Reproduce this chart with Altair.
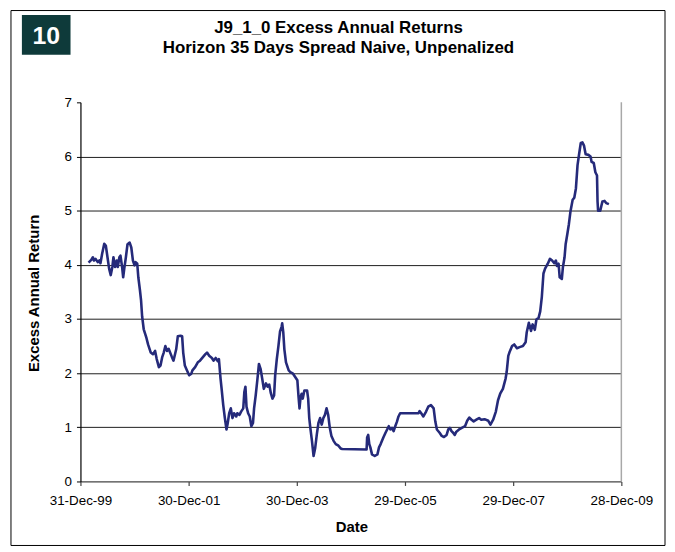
import altair as alt
import pandas as pd

years = [
    2000.15, 2000.20, 2000.23, 2000.25, 2000.28, 2000.32, 2000.35, 2000.37, 2000.40, 2000.44,
    2000.47, 2000.50, 2000.53, 2000.56, 2000.59, 2000.61, 2000.64, 2000.67, 2000.69, 2000.72,
    2000.74, 2000.77, 2000.79, 2000.81, 2000.84, 2000.87, 2000.91, 2000.94, 2000.97, 2001.00,
    2001.02, 2001.05, 2001.07, 2001.10, 2001.12, 2001.14, 2001.17, 2001.22, 2001.25, 2001.30,
    2001.34, 2001.38, 2001.41, 2001.45, 2001.48, 2001.51, 2001.54, 2001.57, 2001.60, 2001.63,
    2001.69, 2001.72, 2001.77, 2001.80, 2001.85, 2001.88, 2001.90, 2001.93, 2001.97, 2002.01,
    2002.05, 2002.07, 2002.12, 2002.17, 2002.21, 2002.26, 2002.31, 2002.34, 2002.38, 2002.43,
    2002.46, 2002.50, 2002.54, 2002.56, 2002.59, 2002.61, 2002.64, 2002.67, 2002.70, 2002.72,
    2002.75, 2002.78, 2002.81, 2002.84, 2002.88, 2002.90, 2002.94, 2002.97, 2003.01, 2003.03,
    2003.05, 2003.07, 2003.10, 2003.13, 2003.16, 2003.19, 2003.21, 2003.24, 2003.27, 2003.30,
    2003.33, 2003.36, 2003.39, 2003.43, 2003.46, 2003.49, 2003.52, 2003.55, 2003.58, 2003.60,
    2003.63, 2003.66, 2003.69, 2003.72, 2003.73, 2003.75, 2003.77, 2003.80, 2003.85, 2003.88,
    2003.93, 2003.97, 2004.01, 2004.03, 2004.05, 2004.07, 2004.09, 2004.11, 2004.14, 2004.19,
    2004.21, 2004.23, 2004.25, 2004.28, 2004.31, 2004.34, 2004.37, 2004.40, 2004.43, 2004.46,
    2004.49, 2004.52, 2004.55, 2004.58, 2004.61, 2004.64, 2004.68, 2004.72, 2004.77, 2004.81,
    2004.84, 2005.29, 2005.30, 2005.32, 2005.34, 2005.36, 2005.39, 2005.44, 2005.49, 2005.52,
    2005.55, 2005.60, 2005.64, 2005.67, 2005.70, 2005.73, 2005.76, 2005.79, 2005.82, 2005.85,
    2005.88, 2005.91, 2006.25, 2006.27, 2006.30, 2006.34, 2006.39, 2006.43, 2006.48, 2006.53,
    2006.56, 2006.59, 2006.64, 2006.68, 2006.72, 2006.77, 2006.80, 2006.83, 2006.86, 2006.89,
    2006.92, 2006.95, 2007.00, 2007.05, 2007.11, 2007.15, 2007.19, 2007.23, 2007.27, 2007.32,
    2007.37, 2007.41, 2007.47, 2007.54, 2007.58, 2007.63, 2007.68, 2007.72, 2007.76, 2007.81,
    2007.86, 2007.88, 2007.91, 2007.93, 2007.98, 2008.02, 2008.07, 2008.12, 2008.18, 2008.23,
    2008.25, 2008.29, 2008.31, 2008.33, 2008.36, 2008.40, 2008.43, 2008.47, 2008.50, 2008.53,
    2008.56, 2008.59, 2008.64, 2008.68, 2008.72, 2008.76, 2008.79, 2008.81, 2008.84, 2008.86,
    2008.90, 2008.92, 2008.95, 2008.97, 2009.00, 2009.03, 2009.06, 2009.10, 2009.13, 2009.16,
    2009.19, 2009.22, 2009.25, 2009.28, 2009.31, 2009.34, 2009.39, 2009.43, 2009.45, 2009.49,
    2009.52, 2009.55, 2009.56, 2009.57, 2009.61, 2009.65, 2009.69, 2009.72, 2009.77,
]
returns = [
    4.04, 4.09, 4.14, 4.08, 4.11, 4.05, 4.08, 4.03, 4.20, 4.39,
    4.35, 4.14, 3.93, 3.81, 3.96, 4.14, 3.96, 4.08, 3.96, 4.14,
    4.17, 3.96, 3.77, 3.93, 4.14, 4.38, 4.41, 4.32, 4.08, 3.99,
    4.05, 4.02, 3.77, 3.53, 3.35, 3.05, 2.81, 2.65, 2.53, 2.38,
    2.35, 2.41, 2.26, 2.11, 2.14, 2.29, 2.38, 2.50, 2.41, 2.45,
    2.30, 2.23, 2.44, 2.68, 2.69, 2.68, 2.38, 2.14, 2.05, 1.96,
    1.99, 2.05, 2.11, 2.20, 2.23, 2.29, 2.35, 2.38, 2.32, 2.28,
    2.23, 2.28, 2.22, 2.26, 1.90, 1.71, 1.41, 1.17, 0.96, 1.06,
    1.26, 1.35, 1.17, 1.26, 1.20, 1.26, 1.23, 1.29, 1.35, 1.65,
    1.75, 1.38, 1.26, 1.20, 1.02, 1.08, 1.35, 1.59, 1.87, 2.17,
    2.08, 1.90, 1.71, 1.81, 1.75, 1.79, 1.63, 1.53, 1.59, 1.96,
    2.26, 2.50, 2.77, 2.86, 2.92, 2.75, 2.44, 2.20, 2.05, 2.02,
    1.99, 1.93, 1.87, 1.59, 1.35, 1.56, 1.62, 1.53, 1.68, 1.68,
    1.53, 1.17, 0.99, 0.75, 0.47, 0.62, 0.87, 1.08, 1.17, 1.05,
    1.17, 1.23, 1.35, 1.23, 0.99, 0.84, 0.75, 0.69, 0.66, 0.61,
    0.60, 0.59, 0.81, 0.86, 0.69, 0.63, 0.50, 0.47, 0.50, 0.63,
    0.69, 0.81, 0.90, 0.96, 1.02, 0.96, 0.99, 0.93, 1.02, 1.10,
    1.20, 1.26, 1.26, 1.30, 1.26, 1.20, 1.29, 1.38, 1.41, 1.35,
    1.11, 0.96, 0.90, 0.84, 0.82, 0.86, 0.96, 0.99, 0.93, 0.90,
    0.86, 0.92, 0.96, 0.99, 1.02, 1.12, 1.18, 1.14, 1.11, 1.14,
    1.17, 1.14, 1.15, 1.12, 1.05, 1.14, 1.29, 1.50, 1.62, 1.71,
    1.90, 2.02, 2.32, 2.38, 2.50, 2.53, 2.46, 2.48, 2.50, 2.57,
    2.75, 2.93, 2.86, 2.78, 2.90, 2.80, 2.99, 3.02, 3.14, 3.41,
    3.84, 3.93, 4.02, 4.11, 4.08, 4.03, 4.08, 3.98, 4.02, 3.77,
    3.74, 3.96, 4.14, 4.38, 4.56, 4.75, 4.99, 5.20, 5.24, 5.41,
    5.84, 6.05, 6.25, 6.26, 6.20, 6.04, 6.03, 6.00, 5.90, 5.88,
    5.71, 5.65, 5.17, 5.00, 5.00, 5.17, 5.18, 5.14, 5.12,
]

tick_dates = ["1999-12-31", "2001-12-30", "2003-12-30", "2005-12-29", "2007-12-29", "2009-12-28"]
y_ticks = [0, 1, 2, 3, 4, 5, 6, 7]

title_line1 = "J9_1_0 Excess Annual Returns"
title_line2 = "Horizon 35 Days Spread Naive, Unpenalized"
badge = "10"

# --- build table (decimal year -> UTC timestamp, Excel-style 365-day years from 31-Dec-99) ---
base = pd.Timestamp("1999-12-31", tz="UTC")
DAY_MS = 86400000
base_ms = int(base.value // 10**6)
ms = [int(round(base_ms + (y - 2000.0) * 365 * DAY_MS)) for y in years]
df = pd.DataFrame({"date": ms, "ret": returns})
tick_ms = [int(pd.Timestamp(d, tz="UTC").value // 10**6) for d in tick_dates]

FONT = "Liberation Sans"
W, H = 545, 382

xscale = alt.Scale(type="utc", domain=[tick_ms[0], tick_ms[-1]])
yscale = alt.Scale(domain=[0, 7], nice=False, zero=True)

line = alt.Chart(df).mark_line(color="#252a7a", strokeWidth=2.6, strokeJoin="round").encode(
    x=alt.X("date:T", scale=xscale, axis=alt.Axis(
        values=tick_ms,
        labelExpr="utcFormat(datum.value, '%d-%b-%y')",
        title="Date",
        titleX=273, titleY=45, titleBaseline="middle", titleAlign="center",
        titleFont=FONT, titleFontSize=15, titleFontWeight="bold", titleColor="#000",
        labelFont=FONT, labelFontSize=13.5, labelColor="#000", labelPadding=8,
        labelOverlap=False, labelFlush=False,
        domainColor="#444", domainWidth=1.2, tickColor="#444", tickSize=4, tickWidth=1.2,
        grid=False,
    )),
    y=alt.Y("ret:Q", scale=yscale, axis=alt.Axis(
        values=y_ticks, format="d",
        title="Excess Annual Return",
        titleAngle=-90, titleX=-47, titleY=192, titleBaseline="middle", titleAlign="center",
        titleFont=FONT, titleFontSize=15, titleFontWeight="bold", titleColor="#000",
        labelFont=FONT, labelFontSize=13.5, labelColor="#000", labelPadding=5,
        domainColor="#000", domainWidth=1.2, tickColor="#000", tickSize=4, tickWidth=1,
        grid=True, gridWidth=1,
        gridColor={"condition": {"test": "datum.value == 0 || datum.value == 7", "value": "transparent"},
                   "value": "#1e1e1e"},
    )),
)

one = pd.DataFrame({"k": [0]})

right_edge = alt.Chart(one).mark_rule(color="#a8a8a8", strokeWidth=1.5).encode(
    x=alt.value(W), y=alt.value(0), y2=alt.value(H)
)

frame = alt.Chart(one).mark_rect(filled=False, stroke="#000", strokeWidth=1).encode(
    x=alt.value(-70), x2=alt.value(589), y=alt.value(-92.5), y2=alt.value(446.5)
)

box = alt.Chart(one).mark_rect(color="#0e3a3a").encode(
    x=alt.value(-59), x2=alt.value(-10), y=alt.value(-88), y2=alt.value(-48)
)
box_text = alt.Chart(one).mark_text(
    text=badge, font=FONT, fontSize=25, fontWeight="bold", color="#ffffff",
    align="center", baseline="middle"
).encode(x=alt.value(-34.5), y=alt.value(-67))

t1 = alt.Chart(one).mark_text(
    text=title_line1, font=FONT, fontSize=17, fontWeight="bold", color="#000",
    align="center", baseline="alphabetic"
).encode(x=alt.value(260), y=alt.value(-70))
t2 = alt.Chart(one).mark_text(
    text=title_line2, font=FONT, fontSize=17, fontWeight="bold", color="#000",
    align="center", baseline="alphabetic"
).encode(x=alt.value(260), y=alt.value(-50))

chart = alt.layer(line, frame, box, box_text, t1, t2, right_edge).properties(
    width=W, height=H,
    autosize=alt.AutoSizeParams(type="none"),
    padding={"left": 73, "top": 93, "right": 46, "bottom": 67},
    background="#ffffff",
).configure_view(stroke=None)

chart.save("out.html", embed_options={"renderer": "svg", "actions": False})
